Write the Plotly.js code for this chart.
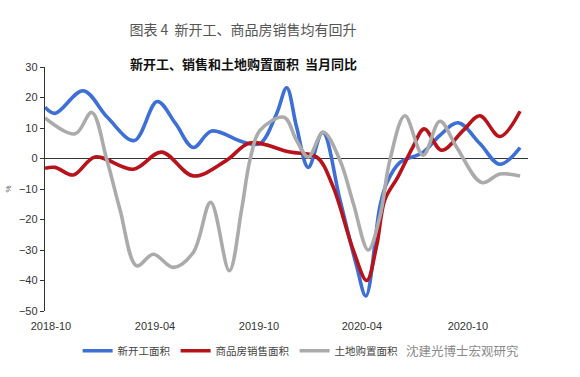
<!DOCTYPE html>
<html>
<head>
<meta charset="utf-8">
<script src="https://cdn.plot.ly/plotly-3.0.1.min.js"></script>
<style>html,body{margin:0;padding:0;background:#fff;}#chart{width:580px;height:377px;}</style>
</head>
<body>
<div id="chart"></div>
<script>
// Month offsets from 2018-10 and values (%)
const seriesNames = ['新开工面积', '商品房销售面积', '土地购置面积'];

const newStartX = [0, 0.51, 1.93, 3.15, 4.51, 5.67, 6.6, 7.49, 8.42, 10.0, 10.86, 11.70, 12.21, 12.71, 13.30, 14.03, 14.90, 15.74, 16.21, 16.92, 17.26, 17.93, 19.09, 19.95, 20.87, 21.97, 22.98, 24.0];
const newStartY = [16.8, 14.8, 22.2, 13.5, 5.9, 18.7, 11.4, 3.6, 9.0, 5.4, 4.9, 14.7, 23.2, 10.3, -2.9, 8.6, -13.5, -35.2, -45.1, -15.7, -8.1, -1.3, 2.0, 7.6, 11.7, 4.9, -1.9, 3.6];

const salesX = [0, 0.51, 1.43, 2.53, 4.46, 5.89, 7.49, 9.17, 10.35, 12.37, 13.72, 14.55, 15.56, 16.25, 16.75, 17.17, 17.83, 18.59, 19.16, 20.04, 21.13, 21.97, 22.98, 24.0];
const salesY = [-3.2, -2.9, -5.4, 0.5, -3.5, 2.1, -5.7, -0.6, 5.1, 2.1, 0.5, -9.2, -29.8, -40, -28.7, -13.5, -6, 3.8, 9.7, 2.7, 9.2, 14, 7.2, 15.5];

const landX = [0, 1.52, 2.36, 3.13, 3.79, 4.63, 5.47, 6.48, 7.49, 8.37, 9.31, 9.93, 10.35, 10.86, 12.07, 12.71, 13.30, 14.06, 14.9, 15.57, 16.33, 16.92, 17.42, 18.18, 19.10, 19.95, 20.79, 22.06, 22.98, 24.0];
const landY = [13.3, 8.1, 15.1, -0.6, -16.8, -35.2, -31.4, -35.7, -30.8, -14.4, -36.8, -16.8, -0.6, 9.2, 13.5, 5.9, 0.5, 8.6, -0.6, -14.6, -30, -19, -0.6, 14, 1.1, 12.2, 3.8, -7.9, -5.1, -5.7];

const tickPos = [0.30, 5.56, 10.81, 16.01, 21.36];
const tickLabels = ['2018-10', '2019-04', '2019-10', '2020-04', '2020-10'];

const colors = ['#3D6FD6', '#B8121A', '#ABABAB'];
const cjk = '"Noto Sans CJK SC", "Liberation Sans", sans-serif';
const num = '"Liberation Sans", Arial, sans-serif';

const mk = (x, y, i) => ({
  x: x, y: y, name: seriesNames[i], type: 'scatter', mode: 'lines',
  line: {color: colors[i], width: 3.6, shape: 'spline', smoothing: 1},
  hoverinfo: 'skip'
});

const data = [mk(newStartX, newStartY, 0), mk(salesX, salesY, 1), mk(landX, landY, 2)];

const layout = {
  width: 580, height: 377,
  paper_bgcolor: '#fff', plot_bgcolor: '#fff',
  margin: {l: 45, r: 52, t: 67, b: 64},
  title: {text: '图表 4  新开工、商品房销售均有回升', xref: 'container', x: 0.419, xanchor: 'center',
          yref: 'container', y: 0.92, yanchor: 'middle',
          font: {family: cjk, size: 14, color: '#555'}},
  showlegend: true,
  legend: {orientation: 'h', x: 0.405, xanchor: 'center', y: -0.163, yanchor: 'middle',
           font: {family: cjk, size: 10.5, color: '#444'}, bgcolor: 'rgba(0,0,0,0)'},
  xaxis: {range: [0, 24.4], showgrid: false, zeroline: false, showline: false,
          tickmode: 'array', tickvals: tickPos, ticktext: tickLabels, ticks: '', ticklabelstandoff: 7,
          tickfont: {family: num, size: 11, color: '#333'}, fixedrange: true},
  yaxis: {range: [-50, 30], dtick: 10, showgrid: false, zeroline: true, zerolinecolor: '#333', zerolinewidth: 1,
          showline: true, linecolor: '#333', linewidth: 1.2, ticks: 'outside', ticklen: 4, tickcolor: '#333',
          tickfont: {family: num, size: 11, color: '#333'},
          title: {text: '%', font: {family: num, size: 8, color: '#555'}, standoff: 6}, fixedrange: true},
  annotations: [
    {text: '<b>新开工、销售和土地购置面积  当月同比</b>', xref: 'paper', yref: 'paper', x: 0.41, y: 1.016,
     xanchor: 'center', yanchor: 'middle', showarrow: false, font: {family: cjk, size: 13, color: '#111'}},
    {text: '沈建光博士宏观研究', xref: 'paper', yref: 'paper', x: (404 - 45) / 483, y: -0.163,
     xanchor: 'left', yanchor: 'middle', showarrow: false,
     font: {family: cjk, size: 12.5, color: '#8a8a8a'}}
  ]
};

Plotly.newPlot('chart', data, layout, {displayModeBar: false, staticPlot: true});
</script>
</body>
</html>
